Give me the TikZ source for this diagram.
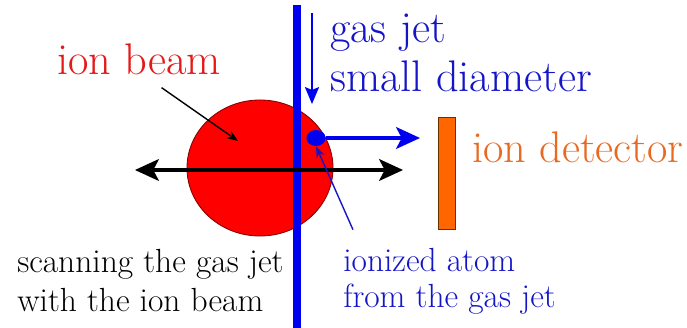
\documentclass[tikz,border=0pt]{standalone}
\usepackage{fontspec}
\usetikzlibrary{arrows.meta, positioning, shapes.geometric}

\definecolor{beamred}{HTML}{FF0000}
\definecolor{beamtext}{HTML}{E41A1A}
\definecolor{jetblue}{HTML}{0000F0}
\definecolor{jettext}{HTML}{1414C8}
\definecolor{detorange}{HTML}{FF6600}
\definecolor{dettext}{HTML}{E86A20}

\begin{document}
\begin{tikzpicture}[
    x=0.025cm, y=-0.025cm,
    big/.style={inner sep=0pt, anchor=base west, font=\fontsize{31.5}{36}\selectfont},
    small/.style={inner sep=0pt, anchor=base west, font=\fontsize{23.8}{28}\selectfont},
    >=Stealth
  ]
  \useasboundingbox (0,0) rectangle (687,328);

  % ion beam and jet
  \node[ellipse, draw=red!50!black, line width=0.6pt, fill=beamred,
        minimum width=3.65cm, minimum height=3.4cm, inner sep=0pt] (beam) at (260,168) {};
  \coordinate (jettop) at (297,5);
  \coordinate (jetbot) at (297,328);
  \draw[jetblue, line width=5pt] (jettop) -- (jetbot);

  % scanning direction
  \coordinate (scanL) at (135,170);
  \coordinate (scanR) at (403,170);
  \draw[{Stealth[length=17pt, width=15.5pt, inset=4pt]}-{Stealth[length=17pt, width=15.5pt, inset=4pt]},
        line width=2.2pt] (scanL) -- (scanR);

  % ionized atom and detector
  \node[ellipse, fill=jetblue, minimum width=0.48cm, minimum height=0.4cm, inner sep=0pt] (dot) at (316,138) {};
  \coordinate (ionend) at (420,138);
  \draw[->, jetblue, line width=2.2pt, -{Stealth[length=17pt, width=15.5pt, inset=4pt]}] (dot.east) -- (ionend);
  \node[draw=orange!40!black, line width=0.6pt, fill=detorange, minimum width=0.425cm,
        minimum height=2.8cm, inner sep=0pt] (det) at (446.5,173) {};

  % gas flow
  \coordinate (flowtop) at (312,13);
  \coordinate (flowend) at (312,104);
  \draw[jetblue, line width=1.4pt, -{Stealth[length=12pt, width=10pt, inset=2pt]}] (flowtop) -- (flowend);

  % labels
  \node[big, text=beamtext] (beamlbl) at (57,75) {ion beam};
  \node[big, text=jettext] (jet1) at (330,43) {gas jet};
  \node[big, text=jettext] (jet2) at (330,92) {small diameter};
  \node[big, text=dettext] (detlbl) at (472,163) {ion detector};
  \node[small] (scan1) at (17,273) {scanning the gas jet};
  \node[small] (scan2) at (17,312) {with the ion beam};
  \node[small, text=jettext] (atom1) at (343,272) {ionized atom};
  \node[small, text=jettext] (atom2) at (343,308) {from the gas jet};

  % pointers
  \coordinate (beamtip) at (238,141);
  \draw[line width=1pt, -{Stealth[length=8pt, width=6pt]}]
    ([xshift=0.56cm, yshift=-0.3cm]beamlbl.south) -- (beamtip);
  \draw[jettext, line width=1pt, -{Stealth[length=8pt, width=6pt]}]
    ([xshift=0.25cm, yshift=0.47cm]atom1.north west) -- (dot.south);

\end{tikzpicture}
\end{document}
